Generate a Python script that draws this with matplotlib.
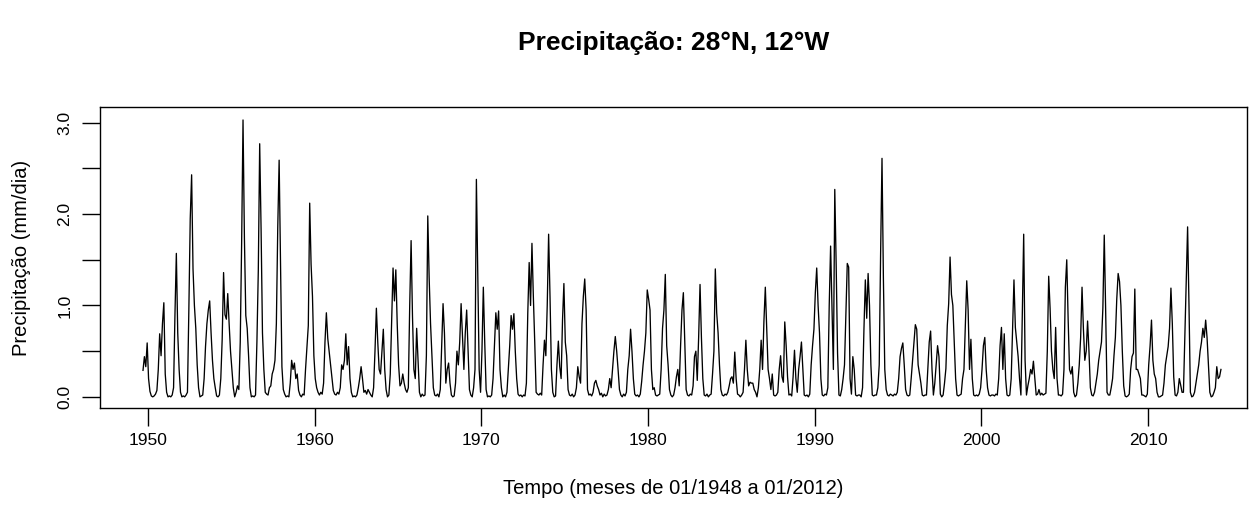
import numpy as np
import matplotlib
matplotlib.use("Agg")
import matplotlib.pyplot as plt

# ---- data: monthly precipitation (mm/day), one row per 12 months ----
start_year = 1949.7
freq = 12
rows = [
    [0.29, 0.44, 0.33, 0.59, 0.2, 0.06, 0.01, 0.0, 0.01, 0.03, 0.07, 0.3],
    [0.69, 0.45, 0.8, 1.03, 0.25, 0.05, 0.0, 0.01, 0.0, 0.02, 0.1, 0.9],
    [1.57, 0.7, 0.3, 0.05, 0.0, 0.01, 0.0, 0.02, 0.05, 0.95, 1.95, 2.43],
    [1.4, 1.0, 0.75, 0.35, 0.1, 0.0, 0.01, 0.02, 0.2, 0.55, 0.8, 0.95],
    [1.05, 0.7, 0.4, 0.2, 0.1, 0.01, 0.0, 0.02, 0.2, 0.63, 1.36, 0.9],
    [0.85, 1.13, 0.8, 0.5, 0.3, 0.1, 0.0, 0.05, 0.12, 0.08, 0.6, 1.68],
    [3.03, 1.74, 0.89, 0.75, 0.45, 0.1, 0.0, 0.01, 0.0, 0.02, 0.6, 1.38],
    [2.77, 1.84, 0.7, 0.3, 0.05, 0.03, 0.02, 0.1, 0.12, 0.25, 0.3, 0.4],
    [0.8, 1.85, 2.59, 1.5, 0.33, 0.08, 0.03, 0.0, 0.01, 0.0, 0.15, 0.4],
    [0.3, 0.37, 0.2, 0.25, 0.07, 0.02, 0.0, 0.03, 0.02, 0.3, 0.55, 0.78],
    [2.12, 1.45, 1.1, 0.45, 0.2, 0.1, 0.05, 0.02, 0.05, 0.03, 0.15, 0.6],
    [0.92, 0.64, 0.5, 0.37, 0.22, 0.07, 0.03, 0.02, 0.05, 0.03, 0.1, 0.35],
    [0.3, 0.4, 0.69, 0.35, 0.55, 0.2, 0.05, 0.0, 0.01, 0.0, 0.02, 0.1],
    [0.2, 0.33, 0.2, 0.05, 0.07, 0.03, 0.08, 0.05, 0.02, 0.0, 0.1, 0.5],
    [0.97, 0.6, 0.3, 0.25, 0.5, 0.74, 0.3, 0.08, 0.0, 0.02, 0.25, 0.81],
    [1.41, 1.05, 1.39, 0.8, 0.35, 0.12, 0.15, 0.25, 0.15, 0.08, 0.05, 0.1],
    [1.0, 1.71, 0.88, 0.3, 0.2, 0.75, 0.4, 0.05, 0.0, 0.03, 0.01, 0.02],
    [0.45, 1.98, 1.3, 0.8, 0.45, 0.1, 0.02, 0.01, 0.03, 0.0, 0.08, 0.55],
    [1.02, 0.7, 0.15, 0.3, 0.37, 0.15, 0.02, 0.0, 0.01, 0.15, 0.5, 0.35],
    [0.6, 1.02, 0.65, 0.3, 0.7, 0.95, 0.5, 0.08, 0.02, 0.0, 0.1, 0.3],
    [2.38, 1.35, 0.3, 0.05, 0.5, 1.2, 0.6, 0.08, 0.0, 0.01, 0.0, 0.02],
    [0.2, 0.56, 0.92, 0.74, 0.94, 0.3, 0.1, 0.0, 0.02, 0.0, 0.05, 0.3],
    [0.56, 0.89, 0.74, 0.91, 0.5, 0.2, 0.03, 0.01, 0.02, 0.0, 0.02, 0.01],
    [0.15, 0.92, 1.47, 1.0, 1.68, 1.1, 0.6, 0.05, 0.03, 0.02, 0.04, 0.02],
    [0.35, 0.62, 0.45, 1.0, 1.78, 1.1, 0.3, 0.05, 0.0, 0.01, 0.35, 0.61],
    [0.33, 0.2, 0.84, 1.24, 0.6, 0.45, 0.08, 0.02, 0.01, 0.03, 0.0, 0.02],
    [0.1, 0.33, 0.22, 0.15, 0.8, 1.1, 1.29, 0.95, 0.08, 0.02, 0.03, 0.01],
    [0.05, 0.15, 0.18, 0.12, 0.08, 0.02, 0.04, 0.0, 0.03, 0.01, 0.02, 0.08],
    [0.2, 0.1, 0.3, 0.5, 0.66, 0.5, 0.3, 0.08, 0.02, 0.0, 0.03, 0.01],
    [0.05, 0.3, 0.45, 0.74, 0.5, 0.2, 0.03, 0.01, 0.02, 0.0, 0.03, 0.17],
    [0.35, 0.5, 0.7, 1.17, 1.07, 0.95, 0.3, 0.08, 0.1, 0.02, 0.01, 0.02],
    [0.03, 0.3, 0.75, 0.95, 1.34, 0.56, 0.35, 0.08, 0.02, 0.0, 0.02, 0.1],
    [0.22, 0.3, 0.12, 0.56, 0.95, 1.14, 0.6, 0.08, 0.02, 0.01, 0.03, 0.02],
    [0.12, 0.44, 0.5, 0.18, 0.65, 1.23, 0.65, 0.2, 0.02, 0.01, 0.03, 0.0],
    [0.02, 0.03, 0.25, 0.5, 1.40, 0.92, 0.7, 0.35, 0.08, 0.02, 0.01, 0.03],
    [0.02, 0.05, 0.12, 0.2, 0.22, 0.15, 0.49, 0.2, 0.03, 0.02, 0.0, 0.02],
    [0.05, 0.3, 0.62, 0.3, 0.12, 0.16, 0.15, 0.15, 0.08, 0.05, 0.0, 0.1],
    [0.3, 0.62, 0.3, 0.83, 1.2, 0.74, 0.3, 0.2, 0.08, 0.25, 0.02, 0.01],
    [0.02, 0.05, 0.3, 0.45, 0.22, 0.16, 0.82, 0.56, 0.22, 0.02, 0.03, 0.01],
    [0.22, 0.51, 0.2, 0.05, 0.3, 0.44, 0.6, 0.3, 0.02, 0.01, 0.02, 0.0],
    [0.03, 0.35, 0.56, 0.74, 1.14, 1.41, 1.0, 0.7, 0.2, 0.02, 0.01, 0.03],
    [0.02, 0.1, 1.0, 1.65, 1.0, 0.3, 2.27, 1.45, 0.48, 0.02, 0.01, 0.08],
    [0.2, 0.35, 0.9, 1.46, 1.42, 0.2, 0.03, 0.44, 0.3, 0.02, 0.01, 0.02],
    [0.02, 0.0, 0.1, 0.74, 1.28, 0.86, 1.35, 1.0, 0.35, 0.02, 0.01, 0.02],
    [0.02, 0.1, 0.35, 1.57, 2.61, 1.3, 0.3, 0.08, 0.02, 0.01, 0.03, 0.02],
    [0.01, 0.03, 0.02, 0.05, 0.2, 0.44, 0.53, 0.59, 0.35, 0.08, 0.02, 0.01],
    [0.02, 0.2, 0.4, 0.6, 0.79, 0.74, 0.35, 0.25, 0.15, 0.02, 0.01, 0.02],
    [0.02, 0.3, 0.6, 0.72, 0.3, 0.02, 0.15, 0.35, 0.56, 0.44, 0.03, 0.0],
    [0.02, 0.15, 0.31, 0.78, 1.02, 1.53, 1.12, 1.0, 0.6, 0.2, 0.02, 0.01],
    [0.02, 0.03, 0.2, 0.3, 0.8, 1.27, 0.95, 0.3, 0.63, 0.2, 0.02, 0.01],
    [0.02, 0.01, 0.03, 0.1, 0.3, 0.56, 0.65, 0.3, 0.1, 0.02, 0.01, 0.02],
    [0.02, 0.01, 0.03, 0.02, 0.2, 0.56, 0.76, 0.3, 0.69, 0.2, 0.02, 0.01],
    [0.02, 0.2, 0.74, 1.28, 0.76, 0.6, 0.44, 0.2, 0.02, 0.88, 1.78, 0.4],
    [0.02, 0.12, 0.2, 0.3, 0.25, 0.39, 0.2, 0.02, 0.03, 0.08, 0.02, 0.04],
    [0.02, 0.03, 0.04, 0.5, 1.32, 0.97, 0.5, 0.3, 0.2, 0.76, 0.2, 0.02],
    [0.02, 0.01, 0.03, 0.3, 1.2, 1.50, 0.85, 0.3, 0.25, 0.33, 0.05, 0.0],
    [0.02, 0.15, 0.35, 0.65, 1.2, 0.74, 0.4, 0.5, 0.83, 0.5, 0.1, 0.02],
    [0.01, 0.05, 0.15, 0.25, 0.4, 0.5, 0.6, 0.97, 1.77, 0.95, 0.05, 0.02],
    [0.02, 0.1, 0.2, 0.45, 0.65, 1.07, 1.35, 1.26, 1.0, 0.5, 0.12, 0.01],
    [0.0, 0.01, 0.03, 0.3, 0.44, 0.48, 1.18, 0.3, 0.3, 0.25, 0.2, 0.02],
    [0.02, 0.01, 0.0, 0.03, 0.35, 0.56, 0.84, 0.4, 0.25, 0.2, 0.05, 0.0],
    [0.0, 0.01, 0.02, 0.15, 0.35, 0.45, 0.55, 0.75, 1.19, 0.8, 0.22, 0.02],
    [0.01, 0.05, 0.2, 0.13, 0.05, 0.05, 0.65, 1.24, 1.86, 1.0, 0.05, 0.0],
    [0.01, 0.05, 0.15, 0.25, 0.35, 0.5, 0.6, 0.75, 0.65, 0.84, 0.65, 0.35],
    [0.05, 0.0, 0.01, 0.05, 0.1, 0.33, 0.2, 0.22, 0.3],
]
x_ticks = [1950, 1960, 1970, 1980, 1990, 2000, 2010]
y_ticks = [0.0, 0.5, 1.0, 1.5, 2.0, 2.5, 3.0]
y_ticklabels = ["0.0", "", "1.0", "", "2.0", "", "3.0"]
title = "Precipitação: 28°N, 12°W"
xlabel = "Tempo (meses de 01/1948 a 01/2012)"
ylabel = "Precipitação (mm/dia)"

values = np.concatenate([np.asarray(r, dtype=float) for r in rows])
t = start_year + np.arange(len(values)) / freq

plt.rcParams['font.family'] = ['Liberation Sans', 'DejaVu Sans']

W, H = 1256, 507
fig = plt.figure(figsize=(W / 100, H / 100), dpi=100)
left, right, top, bottom = 100, 1247, 107, 408
ax = fig.add_axes([left / W, 1 - bottom / H, (right - left) / W, (bottom - top) / H])

ax.plot(t, values, color='black', linewidth=0.95)

ax.set_xlim(1947.12, 2015.93)
ax.set_ylim(-0.122, 3.172)
ax.set_xticks(x_ticks)
ax.set_xticklabels([str(v) for v in x_ticks])
ax.set_yticks(y_ticks)
ax.set_yticklabels(y_ticklabels, rotation=90, va='center')

for s in ax.spines.values():
    s.set_linewidth(1.0)
    s.set_color('black')
ax.tick_params(direction='out', length=13, width=1.0, labelsize=12.5, colors='black')
ax.tick_params(axis='x', pad=5)
ax.tick_params(axis='y', pad=7)

cx = (left + right) / 2 / W
cy = 1 - (top + bottom) / 2 / H
fig.text(cx, 1 - 488 / H, xlabel, ha='center', va='center', fontsize=14.5)
fig.text(22 / W, cy, ylabel, ha='center', va='center', rotation=90, fontsize=14.5)
fig.text(cx, 1 - 43 / H, title, ha='center', va='center',
         fontsize=19, fontweight='bold')

fig.savefig("out.png", dpi=100)
